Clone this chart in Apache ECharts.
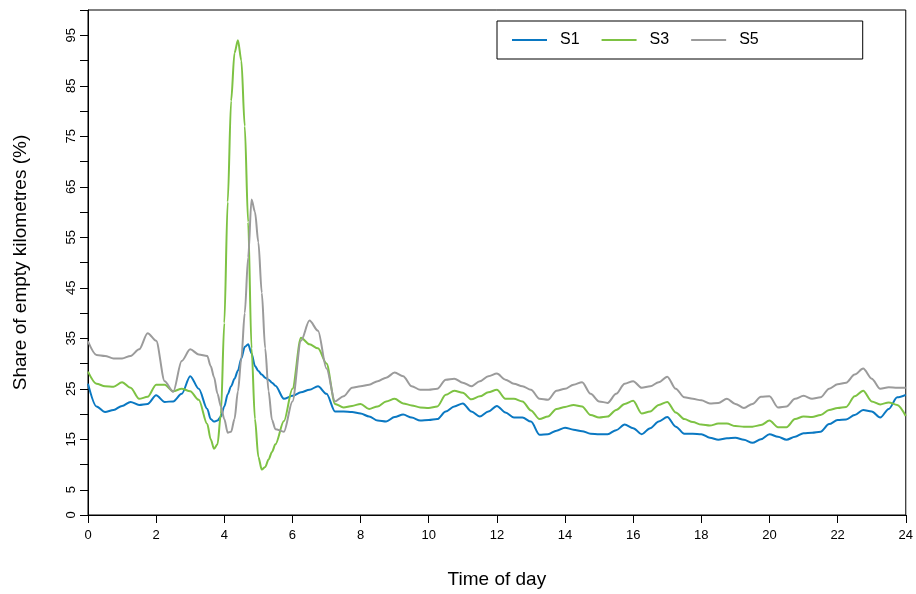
<!DOCTYPE html>
<html>
<head>
<meta charset="utf-8">
<script src="https://cdn.jsdelivr.net/npm/echarts@6/dist/echarts.min.js"></script>
<style>
  html, body { margin: 0; padding: 0; background: #fff; }
  #chart { width: 916px; height: 594px; }
</style>
</head>
<body>
<div id="chart"></div>
<script>
// time of day (hours), finer steps around the morning spike
var hours = [0, 0.25, 0.5, 0.75, 1, 1.25, 1.5, 1.75, 2, 2.25, 2.5, 2.75, 3, 3.25, 3.5,
  3.6, 3.7, 3.8, 3.9, 4.0, 4.1, 4.2, 4.3, 4.4, 4.5, 4.6, 4.7, 4.8, 4.9, 5.0, 5.1, 5.2, 5.3, 5.4, 5.5,
  5.75, 6, 6.25, 6.5, 6.75, 7, 7.25, 7.5, 7.75, 8, 8.25, 8.5, 8.75, 9, 9.25, 9.5, 9.75,
  10, 10.25, 10.5, 10.75, 11, 11.25, 11.5, 11.75, 12, 12.25, 12.5, 12.75, 13, 13.25, 13.5, 13.75,
  14, 14.25, 14.5, 14.75, 15, 15.25, 15.5, 15.75, 16, 16.25, 16.5, 16.75, 17, 17.25, 17.5, 17.75,
  18, 18.25, 18.5, 18.75, 19, 19.25, 19.5, 19.75, 20, 20.25, 20.5, 20.75, 21, 21.25, 21.5, 21.75,
  22, 22.25, 22.5, 22.75, 23, 23.25, 23.5, 23.75, 24];

var s1 = [26.0, 21.5, 20.4, 20.8, 21.6, 22.4, 21.8, 22.0, 23.7, 22.4, 22.5, 24.0, 27.5, 25.0, 21.0,
  19.0, 18.5, 18.7, 19.5, 21.5, 23.9, 25.5, 27.0, 28.6, 31.0, 33.3, 33.8, 32.0, 29.5, 28.5, 27.8, 27.2, 26.8, 26.2, 25.6,
  23.0, 23.6, 24.3, 24.8, 25.5, 24.0, 20.5, 20.5, 20.4, 20.1, 19.5, 18.7, 18.5, 19.4, 19.9, 19.3, 18.7,
  18.8, 19.0, 20.5, 21.5, 22.1, 20.5, 19.5, 20.5, 21.6, 20.3, 19.3, 19.3, 18.5, 15.9, 16.0, 16.7,
  17.3, 16.9, 16.6, 16.1, 16.0, 16.0, 16.8, 17.9, 17.2, 16.0, 17.2, 18.5, 19.4, 17.5, 16.1, 16.1,
  16.0, 15.3, 14.9, 15.2, 15.3, 14.9, 14.3, 15.0, 16.0, 15.5, 14.9, 15.5, 16.2, 16.3, 16.5, 18.0,
  18.8, 18.9, 19.8, 20.8, 20.5, 19.3, 21.0, 23.3, 23.8];

var s3 = [28.4, 26.0, 25.5, 25.4, 26.3, 25.2, 23.0, 23.4, 25.8, 25.8, 24.5, 25.0, 24.5, 22.8, 18.0,
  15.0, 13.1, 14.0, 20.0, 38.0, 62.0, 82.0, 91.5, 94.0, 90.0, 77.0, 58.0, 33.0, 19.0, 11.5, 9.0, 9.5, 11.0, 12.5, 14.0,
  18.6, 25.0, 35.1, 33.8, 33.0, 30.0, 22.0, 21.3, 21.6, 22.0, 21.0, 21.5, 22.5, 23.0, 22.1, 21.7, 21.3,
  21.2, 21.5, 23.8, 24.6, 24.2, 22.9, 23.5, 24.3, 24.8, 23.0, 23.0, 22.5, 20.7, 19.0, 19.5, 21.0,
  21.4, 21.8, 21.5, 19.8, 19.3, 19.5, 20.8, 22.0, 22.6, 20.1, 20.5, 21.8, 22.4, 20.3, 19.0, 18.4,
  17.9, 17.7, 18.1, 18.1, 17.6, 17.5, 17.5, 17.8, 18.7, 17.4, 17.4, 19.0, 19.5, 19.4, 19.8, 20.8,
  21.2, 21.4, 23.5, 24.6, 22.5, 21.9, 22.3, 21.8, 19.6];

var s5 = [34.4, 31.7, 31.5, 31.0, 31.0, 31.5, 32.8, 36.0, 34.5, 26.5, 24.4, 30.5, 32.8, 31.8, 31.5,
  29.5, 27.3, 24.0, 21.5, 19.0, 16.3, 16.5, 19.0, 24.5, 31.0, 40.0, 51.0, 62.5, 60.0, 54.0, 44.0, 33.0, 24.5, 18.8, 17.0,
  16.5, 22.5, 34.5, 38.5, 36.5, 29.0, 22.5, 23.5, 25.2, 25.5, 25.8, 26.5, 27.2, 28.2, 27.5, 25.5, 24.8,
  24.8, 25.0, 26.8, 27.0, 26.2, 25.5, 26.5, 27.5, 28.0, 26.8, 26.0, 25.5, 24.8, 23.0, 22.8, 24.6,
  25.0, 25.8, 26.3, 24.0, 22.5, 22.2, 24.0, 26.0, 26.5, 25.2, 25.5, 26.3, 27.4, 25.0, 23.3, 23.0,
  22.7, 22.1, 22.2, 23.0, 22.0, 21.2, 22.0, 23.4, 23.5, 21.3, 21.5, 23.0, 23.6, 23.0, 23.3, 25.0,
  25.9, 26.2, 27.8, 29.0, 27.0, 25.0, 25.3, 25.2, 25.2];

var seriesNames = ['S1', 'S3', 'S5'];
var colors = ['#0a78c2', '#7dc243', '#9b9b9b'];

function pairs(vals) {
  return hours.map(function (h, i) { return [h, vals[i]]; });
}

var chart = echarts.init(document.getElementById('chart'));
var font = 'Liberation Sans, Arial, sans-serif';

var option = {
  animation: false,
  color: colors,
  grid: {
    left: 88, right: 9, top: 10, bottom: 76,
    show: true, borderColor: '#000', borderWidth: 1
  },
  legend: {
    data: seriesNames,
    left: 497, top: 21,
    orient: 'horizontal',
    icon: 'rect',
    itemWidth: 35, itemHeight: 2,
    itemGap: 22,
    padding: [11, 104, 11, 15],
    borderColor: '#000', borderWidth: 1,
    textStyle: { fontFamily: font, fontSize: 16, color: '#000', padding: [0, 0, 0, 8] }
  },
  xAxis: {
    type: 'value',
    min: 0, max: 24, interval: 2,
    name: 'Time of day',
    nameLocation: 'middle',
    nameGap: 55,
    nameTextStyle: { fontFamily: font, fontSize: 19, color: '#000' },
    axisLine: { show: true, lineStyle: { color: '#000' } },
    axisTick: { show: true, length: 8, lineStyle: { color: '#000' } },
    axisLabel: { fontFamily: font, fontSize: 13, color: '#000', margin: 14 },
    splitLine: { show: false }
  },
  yAxis: {
    type: 'value',
    min: 0, max: 100, interval: 5,
    name: 'Share of empty kilometres (%)',
    nameLocation: 'middle',
    nameGap: 58,
    nameTextStyle: { fontFamily: font, fontSize: 19, color: '#000' },
    axisLine: { show: true, lineStyle: { color: '#000' } },
    axisTick: { show: true, length: 8, lineStyle: { color: '#000' } },
    axisLabel: {
      fontFamily: font, fontSize: 13, color: '#000', rotate: 90, margin: 10,
      formatter: function (v) {
        return (v === 0 || v % 10 === 5) ? String(v) : '';
      }
    },
    splitLine: { show: false }
  },
  series: seriesNames.map(function (name, i) {
    return {
      name: name,
      type: 'line',
      data: pairs([s1, s3, s5][i]),
      showSymbol: false,
      smooth: 0.3,
      smoothMonotone: 'x',
      lineStyle: { width: 2, color: colors[i] },
      itemStyle: { color: colors[i] }
    };
  })
};

chart.setOption(option);
</script>
</body>
</html>
